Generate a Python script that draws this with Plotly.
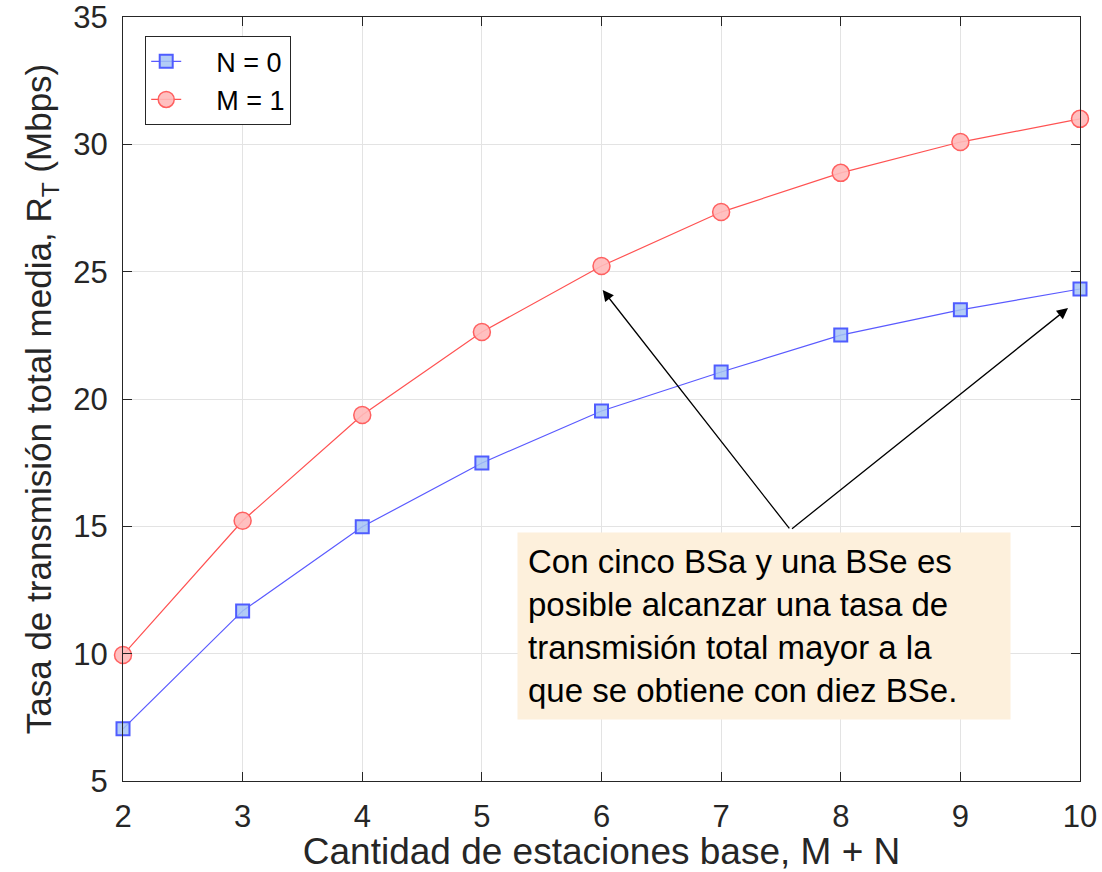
import plotly.graph_objects as go

x_vals = [2, 3, 4, 5, 6, 7, 8, 9, 10]
n0_vals = [7.05, 11.68, 14.98, 17.49, 19.53, 21.06, 22.51, 23.50, 24.32]
m1_vals = [9.95, 15.22, 19.37, 22.63, 25.22, 27.34, 28.88, 30.09, 31.00]
x_ticks = [2, 3, 4, 5, 6, 7, 8, 9, 10]
y_ticks = [5, 10, 15, 20, 25, 30, 35]
series_names = ["N = 0", "M = 1"]

FONT = "Liberation Sans"
PAD = "\u00a0" * 4
fig = go.Figure()
fig.add_trace(go.Scatter(
    x=x_vals, y=n0_vals, mode="lines+markers", name=PAD + series_names[0],
    line=dict(color="#5a5aff", width=1.2),
    marker=dict(symbol="square", size=13, color="rgba(165,195,245,0.85)",
                line=dict(color="#4f5cff", width=2)),
    cliponaxis=False,
))
fig.add_trace(go.Scatter(
    x=x_vals, y=m1_vals, mode="lines+markers", name=PAD + series_names[1],
    line=dict(color="#ff5252", width=1.2),
    marker=dict(symbol="circle", size=17, color="rgba(255,185,185,0.9)",
                line=dict(color="#ff6060", width=1.5)),
    cliponaxis=False,
))

axis_common = dict(
    showgrid=True, gridcolor="#e3e3e3", gridwidth=1,
    showline=True, linecolor="#262626", linewidth=1.2, mirror="ticks",
    ticks="inside", ticklen=9, tickcolor="#262626",
    tickfont=dict(family=FONT, size=31, color="#262626"),
    zeroline=False, automargin=False, ticklabeloverflow="allow",
)
fig.update_xaxes(range=[2, 10], tickvals=x_ticks, ticklabelstandoff=8,
                 title=dict(text="Cantidad de estaciones base, M + N",
                            font=dict(family=FONT, size=37, color="#262626"), standoff=4),
                 **axis_common)
fig.update_yaxes(range=[5, 35], tickvals=y_ticks, ticklabelstandoff=8,
                 title=dict(text="Tasa de transmisión total media, R<sub>T</sub> (Mbps)",
                            font=dict(family=FONT, size=35, color="#262626"), standoff=10),
                 **axis_common)

# arrows
for hx, hy in [(6.01, 24.28), (9.9, 23.57)]:
    fig.add_annotation(x=hx, y=hy, ax=7.58, ay=14.86, xref="x", yref="y",
                       axref="x", ayref="y", text="", showarrow=True,
                       arrowhead=2, arrowsize=1.7, arrowwidth=1.3, arrowcolor="black")

fig.add_annotation(
    x=5.295, y=14.78, xref="x", yref="y", xanchor="left", yanchor="top",
    text="Con cinco BSa y una BSe es<br>posible alcanzar una tasa de<br>transmisión total mayor a la<br>que se obtiene con diez BSe.",
    showarrow=False, align="left", bgcolor="#fdf0dc", borderpad=10, width=472,
    font=dict(family=FONT, size=33, color="black"),
)

fig.update_layout(
    width=1102, height=872,
    margin=dict(l=123, r=22, t=17, b=91, autoexpand=False),
    plot_bgcolor="white", paper_bgcolor="white",
    showlegend=True,
    legend=dict(x=0.023, y=0.975, xanchor="left", yanchor="top",
                bgcolor="white", bordercolor="#262626", borderwidth=1.2,
                font=dict(family=FONT, size=27, color="black"),
                tracegroupgap=6),
)
fig.write_html("out.html", config={"displayModeBar": False},
               post_script="document.body.style.margin='0';document.body.style.overflow='hidden';")
